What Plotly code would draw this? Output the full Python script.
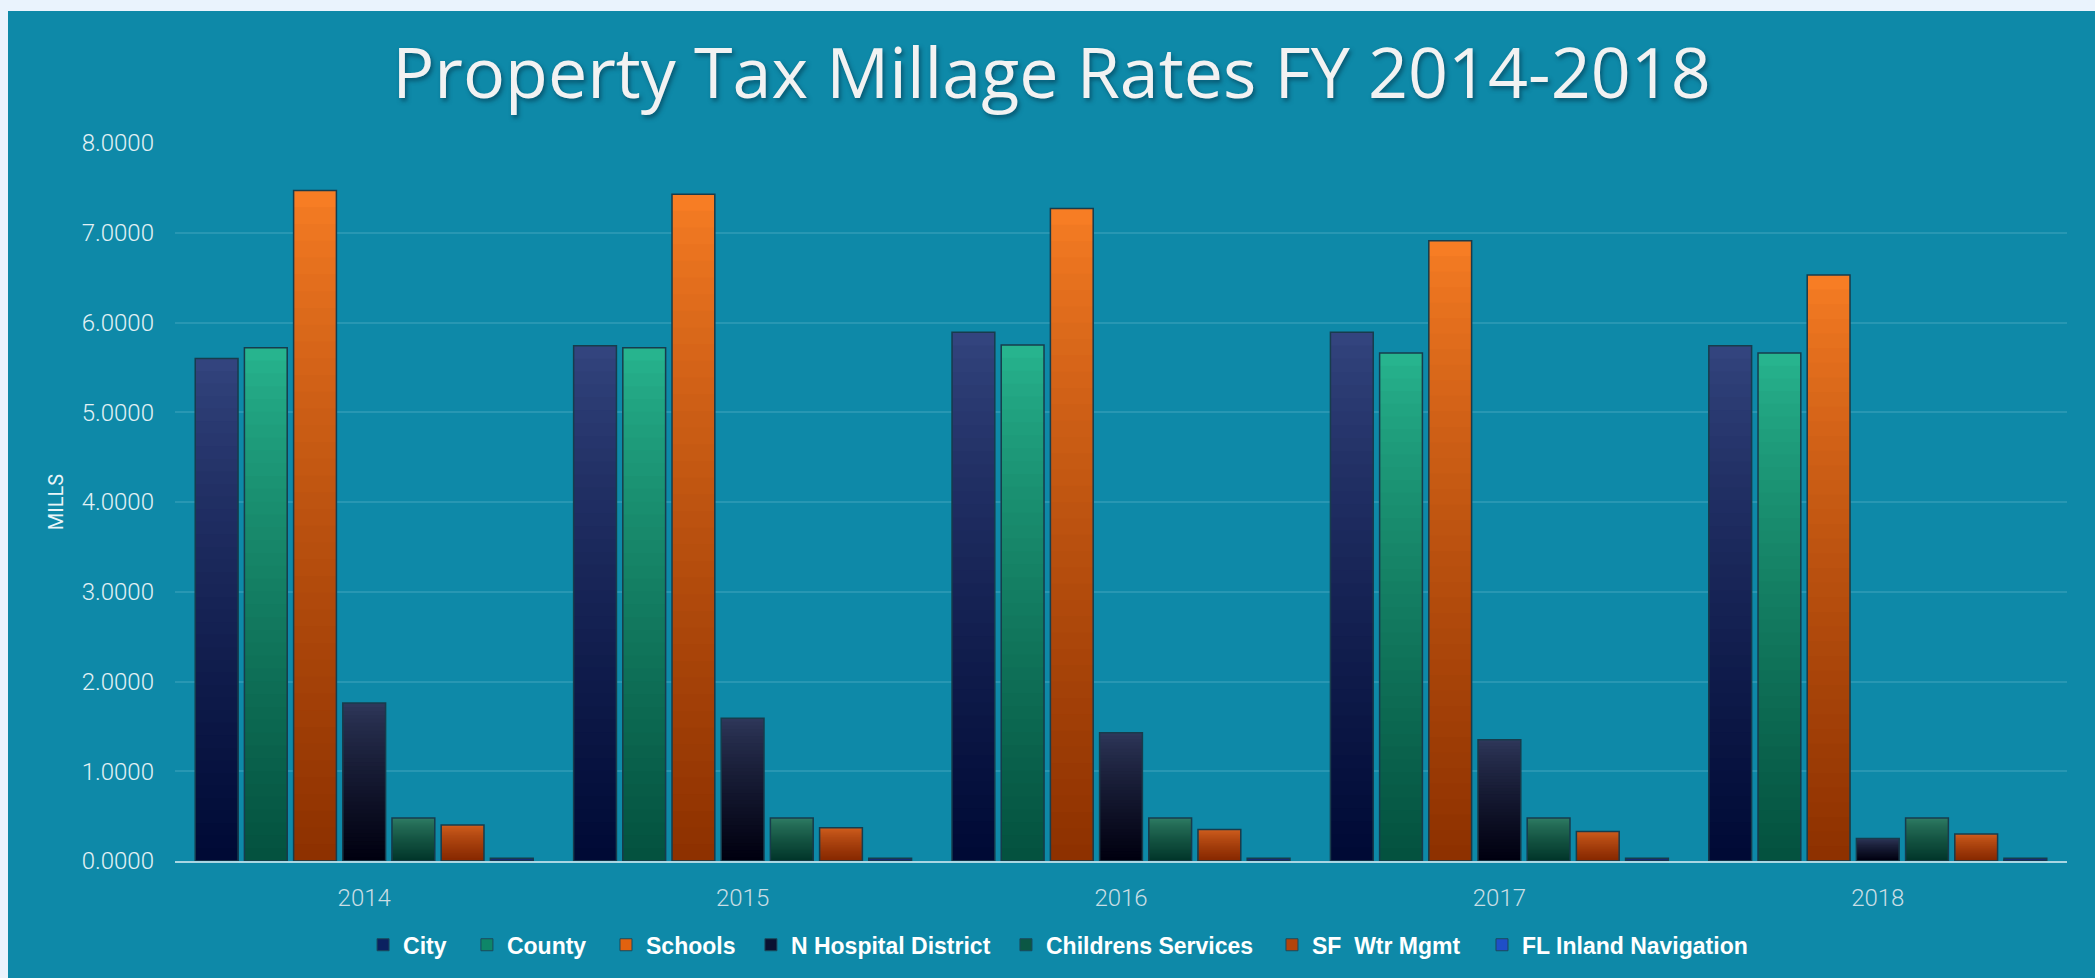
import plotly.graph_objects as go

# ---------------- data ----------------
years = ["2014", "2015", "2016", "2017", "2018"]
series_names = ["City", "County", "Schools", "N Hospital District",
                "Childrens Services", "SF\u00a0 Wtr Mgmt", "FL Inland Navigation"]
city = [5.60, 5.74, 5.89, 5.89, 5.74]
county = [5.72, 5.72, 5.75, 5.66, 5.66]
schools = [7.47, 7.43, 7.27, 6.91, 6.53]
n_hospital = [1.76, 1.59, 1.43, 1.35, 0.25]
childrens = [0.48, 0.48, 0.48, 0.48, 0.48]
sf_wtr_mgmt = [0.40, 0.37, 0.35, 0.33, 0.30]
fl_inland = [0.03, 0.03, 0.03, 0.03, 0.03]
y_tick_values = [0, 1, 2, 3, 4, 5, 6, 7, 8]

series_values = [city, county, schools, n_hospital, childrens, sf_wtr_mgmt, fl_inland]

# ---------------- style ----------------
top_colors = ["#33447E", "#27B48E", "#F77D24", "#2E375A", "#2F7D64", "#D05E1E", "#2C46A0"]
bottom_colors = ["#000A35", "#04523F", "#8E3100", "#00000F", "#01362A", "#862800", "#0A1E66"]
legend_colors = ["#0B2160", "#0E8668", "#E2620F", "#0A1232", "#0B5744", "#B2440C", "#1F4FC8"]
# left edge (fraction of plot width) of each legend entry
legend_x = [0.0994, 0.1543, 0.2278, 0.3044, 0.4392, 0.5798, 0.6908]
N_LAYERS = 40

BG = "#0E89A8"
GRID = "#2897B3"


def hex_to_rgb(h):
    h = h.lstrip("#")
    return tuple(int(h[i:i + 2], 16) for i in (0, 2, 4))


def mix(c1, c2, t):
    a, b = hex_to_rgb(c1), hex_to_rgb(c2)
    return "rgb(%d,%d,%d)" % tuple(round(a[i] + (b[i] - a[i]) * t) for i in range(3))


fig = go.Figure()
legend_layouts = {}
for s, (name, vals) in enumerate(zip(series_names, series_values)):
    # gradient fill: overlaid layers of the same bars
    for k in range(N_LAYERS):
        frac = 1 - k / N_LAYERS
        t = (k / (N_LAYERS - 1)) ** 0.8
        fig.add_trace(go.Bar(
            x=years,
            y=[v * frac for v in vals],
            name=name,
            offsetgroup=str(s),
            legendgroup=name,
            showlegend=False,
            hoverinfo="skip",
            marker=dict(color=mix(top_colors[s], bottom_colors[s], t),
                        line=dict(width=0)),
        ))
    # outline on top
    fig.add_trace(go.Bar(
        x=years,
        y=vals,
        name=name,
        offsetgroup=str(s),
        legendgroup=name,
        showlegend=False,
        marker=dict(color="rgba(0,0,0,0)", line=dict(color="#173C4C", width=1.5)),
    ))
    # legend entry (no visible bars of its own)
    lg = "legend" if s == 0 else "legend%d" % (s + 1)
    fig.add_trace(go.Bar(
        x=years,
        y=[None] * len(years),
        name=name,
        offsetgroup=str(s),
        legendgroup=name,
        showlegend=True,
        legend=lg,
        marker=dict(color=legend_colors[s], line=dict(color="#1B4A5C", width=1)),
    ))
    legend_layouts[lg] = dict(
        orientation="h",
        x=legend_x[s], xanchor="left",
        y=-0.1167, yanchor="middle",
        font=dict(family="Liberation Sans", size=23, color="#FFFFFF", weight="bold"),
        bgcolor="rgba(0,0,0,0)",
    )

fig.update_layout(
    width=2087,
    height=967,
    paper_bgcolor=BG,
    plot_bgcolor=BG,
    barmode="group",
    bargap=0.09,
    bargroupgap=0.13,
    margin=dict(l=167, r=28, t=132, b=115),
    title=dict(
        text="Property Tax Millage Rates FY 2014-2018",
        x=0.5, xref="container", xanchor="center",
        y=1 - 62 / 967, yref="container", yanchor="middle",
        font=dict(family="Open Sans", size=70, color="#F2F2F2", weight=500,
                  shadow="2px 3px 4px rgba(0,40,60,0.5)"),
    ),
    xaxis=dict(
        type="category",
        showgrid=False,
        showline=True,
        linecolor="#A9D6E3",
        linewidth=2,
        ticks="",
        ticklabelstandoff=14,
        tickfont=dict(family="Roboto", size=24, color="#C9DEE5", weight=300),
    ),
    yaxis=dict(
        range=[0, 8],
        tickvals=y_tick_values,
        tickformat=".4f",
        showgrid=True,
        gridcolor=GRID,
        gridwidth=2,
        zeroline=False,
        showline=False,
        ticks="",
        ticklabelstandoff=20,
        tickfont=dict(family="Roboto", size=24, color="#E2F1F5", weight=300),
        title=dict(text="MILLS", standoff=12,
                   font=dict(family="Roboto", size=20, color="#EAF5F8")),
    ),
    **legend_layouts,
)

post = ("document.body.style.margin='0';"
        "document.body.style.padding='11px 0 0 8px';"
        "document.body.style.background='#EAF3FD';"
        "document.body.style.overflow='hidden';"
        "document.documentElement.style.background='#EAF3FD';")

fig.write_html("out.html", post_script=post)
